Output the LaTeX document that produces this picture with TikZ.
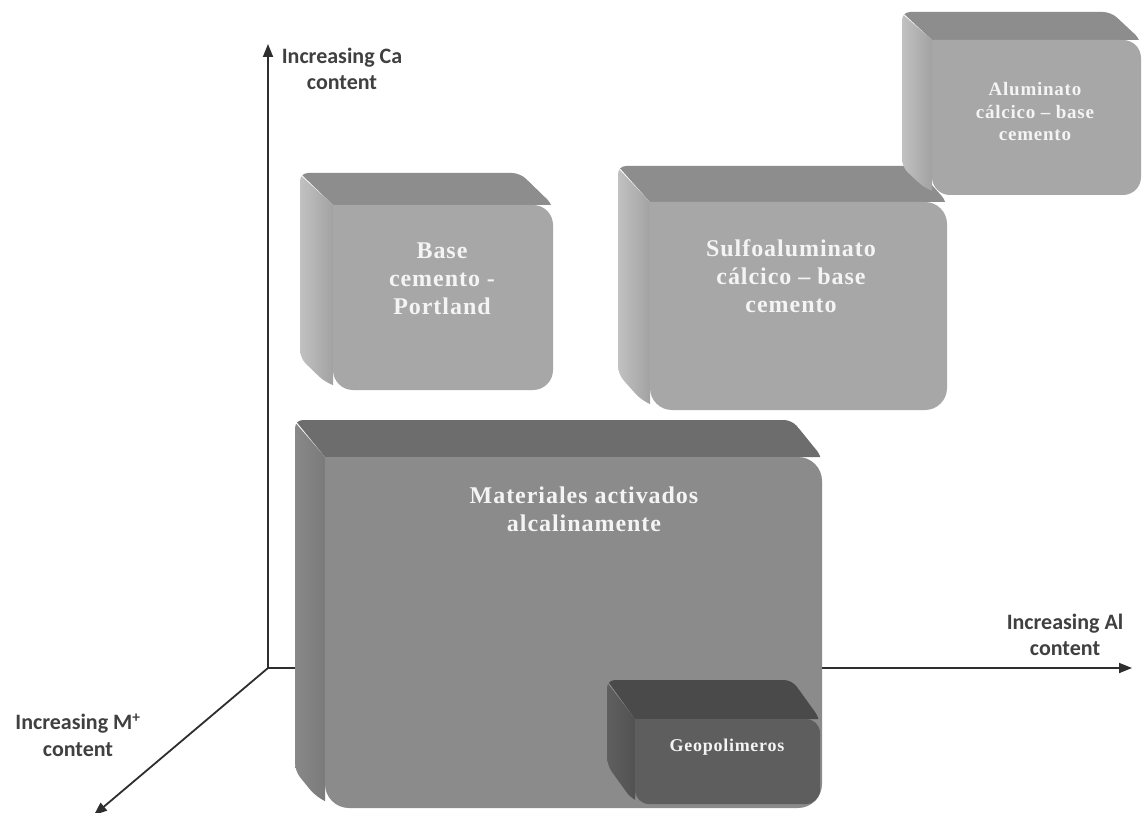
\documentclass[tikz,border=0pt]{standalone}
\usepackage{fontspec}
\setmainfont{Liberation Serif}
\newfontfamily\axfont{Carlito}
\newfontfamily\bxfont[LetterSpace=4,BoldFont={Liberation Serif Bold}]{Liberation Serif}
\usetikzlibrary{arrows.meta}

\definecolor{Lfront}{HTML}{A7A7A7}
\definecolor{Ltop}{HTML}{8D8D8D}
\definecolor{Lside1}{HTML}{C3C3C3}
\definecolor{Lside2}{HTML}{A2A2A2}
\definecolor{Mfront}{HTML}{8B8B8B}
\definecolor{Mtop}{HTML}{6D6D6D}
\definecolor{Mside1}{HTML}{8A8A8A}
\definecolor{Mside2}{HTML}{7A7A7A}
\definecolor{Dfront}{HTML}{5E5E5E}
\definecolor{Dtop}{HTML}{4A4A4A}
\definecolor{Dside1}{HTML}{606060}
\definecolor{Dside2}{HTML}{525252}
\definecolor{axcol}{HTML}{2E2E2E}
\definecolor{labcol}{HTML}{404040}
\definecolor{txtcol}{HTML}{F4F4F4}

% #1 x1, #2 y1, #3 x2, #4 y2 (front face), #5 dx, #6 dy (depth), #7 colour scheme, #8 radius
\newcommand\cubebox[8]{%
  \begin{scope}
    \path[clip, rounded corners=#8]
      (#1-#5,#2-#6) [rounded corners=8] -- (#3-#5,#2-#6) -- (#3,#2) [rounded corners=#8] -- (#3,#4) -- (#1,#4) [rounded corners=8] -- (#1-#5,#4-#6) -- cycle;
    \fill[#7top] (#1-#5,#2-#6) -- (#3-#5,#2-#6) -- (#3+2,#2) -- (#1,#2) -- cycle;
    \shade[left color=#7side1, right color=#7side2]
      (#1-#5-2,#2-#6) -- (#1,#2) -- (#1,#4+2) -- (#1-#5-2,#4-#6) -- cycle;
  \end{scope}
  \fill[#7front] (#1,#2) [rounded corners=#8] -- (#3,#2) -- (#3,#4) -- (#1,#4) [sharp corners] -- cycle;
}

\tikzset{
  axisline/.style={line width=1.8pt, draw=axcol, -{Triangle[length=13pt,width=10pt]}},
  axlabel/.style={font=\axfont\bfseries\fontsize{22}{26.5}\selectfont, text=labcol, align=center, inner sep=0pt},
  bigtext/.style={font=\bxfont\bfseries\fontsize{24}{28}\selectfont, text=txtcol, align=center, inner sep=0pt},
  smalltext/.style={font=\bxfont\bfseries\fontsize{19}{22.5}\selectfont, text=txtcol, align=center, inner sep=0pt},
  geotext/.style={font=\bxfont\bfseries\fontsize{18}{22}\selectfont, text=txtcol, align=center, inner sep=0pt},
}

\begin{document}
\begin{tikzpicture}[x=1pt, y=-1pt]
\useasboundingbox (0,0) rectangle (1143,813);
\fill[white] (0,0) rectangle (1143,813);

% axes
\coordinate (o) at (268,668);
\coordinate (ca) at (268,44);
\coordinate (al) at (1132,668);
\coordinate (mp) at (94,815);
\draw[axisline] (o) -- (ca);
\draw[axisline] (o) -- (al);
\draw[axisline] (o) -- (mp);

% axis labels
\node[axlabel] (laCa) at (342,69) {Increasing Ca\\content};
\node[axlabel] (laM) at (78,735) {Increasing M\textsuperscript{+}\\content};
\node[axlabel] (laAl) at (1065,635) {Increasing Al\\content};

% boxes
\cubebox{333}{205}{553}{390}{33}{32}{L}{20}
\node[bigtext] (portland) at (442,279) {Base\\cemento -\\Portland};

\cubebox{650}{202}{947}{410}{32}{36}{L}{22}
\node[bigtext] (sulfo) at (791,276) {Sulfoaluminato\\cálcico \textendash{} base\\cemento};

\cubebox{932}{40}{1141}{195}{30}{28}{L}{18}
\node[smalltext] (alum) at (1035,112) {Aluminato\\cálcico \textendash{} base\\cemento};

\cubebox{325}{457}{822}{808}{30}{37}{M}{24}
\node[bigtext] (mat) at (584,509) {Materiales activados\\alcalinamente};

\cubebox{635}{719}{820}{804}{28}{39}{D}{14}
\node[geotext] (geo) at (727,747) {Geopolimeros};
\end{tikzpicture}
\end{document}
